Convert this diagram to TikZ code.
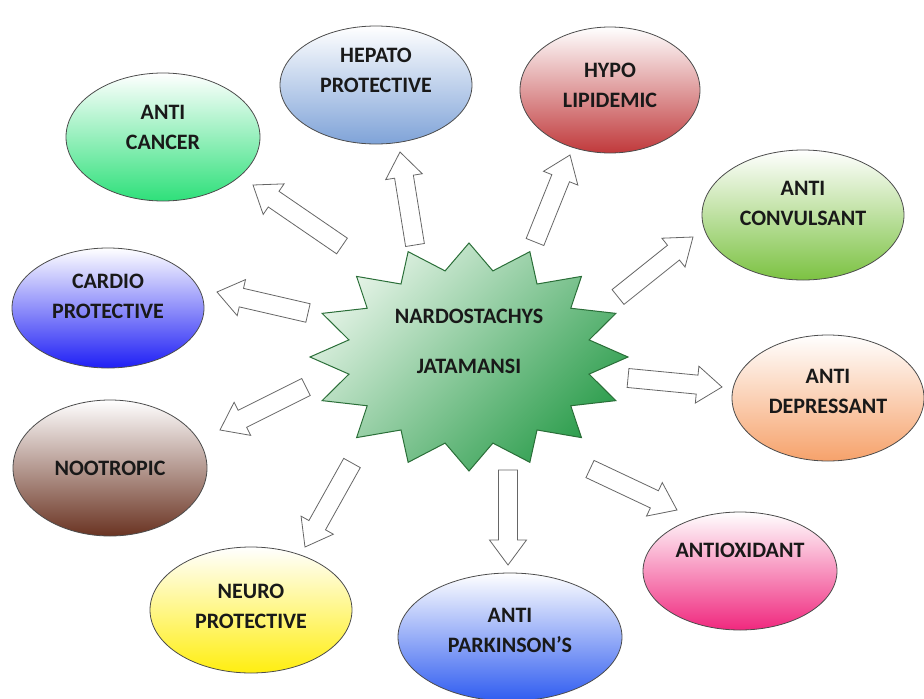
\documentclass[tikz,border=0pt]{standalone}
\usepackage{fontspec}
\setmainfont{Carlito}
\usetikzlibrary{shapes.geometric,calc}
\definecolor{hepatoblue}{HTML}{7FA3D8}
\definecolor{hypored}{HTML}{C0393B}
\definecolor{cancergreen}{HTML}{2EE07A}
\definecolor{convulgreen}{HTML}{7CC242}
\definecolor{cardioblue}{HTML}{1F1FF5}
\definecolor{depresspeach}{HTML}{F6A26B}
\definecolor{nootbrown}{HTML}{6A3322}
\definecolor{antioxpink}{HTML}{F0287E}
\definecolor{neuroyellow}{HTML}{FFEE10}
\definecolor{parkblue}{HTML}{2F5CF0}
\definecolor{starlight}{HTML}{E4F3E6}
\definecolor{stardark}{HTML}{2E9E4E}
\definecolor{staredge}{HTML}{2A6E38}
\begin{document}
\begin{tikzpicture}[x=1pt,y=-1pt,
  txt/.style={align=center,font=\fontsize{22}{30}\selectfont\bfseries,text=black!90,inner sep=0pt},
  every label/.style={txt},
  effect/.style={ellipse,draw=black!70,line width=0.8pt,top color=white,bottom color=#1,inner sep=0pt},
  esize/.style 2 args={minimum width=#1pt,minimum height=#2pt},
  bigarrow/.style={draw=black!60,line width=0.8pt,fill=white,
    to path={let \p1=(\tikztostart),\p2=(\tikztotarget),
      \n1={atan2(\y2-\y1,\x2-\x1)},\n2={veclen(\x2-\x1,\y2-\y1)} in
      ($(\p1)+({\n1+90}:9.5pt)$) -- ++(\n1:{\n2-25pt}) -- ++({\n1+90}:9pt) -- (\p2)
      -- ($(\p2)+({\n1+180}:25pt)+({\n1-90}:18.5pt)$) -- ++({\n1+90}:9pt)
      -- ++({\n1+180}:{\n2-25pt}) -- cycle}}]
  \useasboundingbox (0,0) rectangle (924,699);

  \node[effect=hepatoblue,esize={192}{118},label={[yshift=15pt]center:HEPATO\\PROTECTIVE}] (hepato) at (376,85) {};
  \node[effect=hypored,esize={180}{126},label={[yshift=5pt]center:HYPO\\LIPIDEMIC}] (hypo) at (610,90) {};
  \node[effect=cancergreen,esize={194}{128},label={[yshift=10pt]center:ANTI\\CANCER}] (cancer) at (163,137) {};
  \node[effect=convulgreen,esize={202}{130},label={[yshift=12pt]center:ANTI\\CONVULSANT}] (convul) at (803,215) {};
  \node[effect=cardioblue,esize={192}{120},label={[yshift=12pt]center:CARDIO\\PROTECTIVE}] (cardio) at (108,308) {};
  \node[effect=depresspeach,esize={192}{126},label={[yshift=7pt]center:ANTI\\DEPRESSANT}] (depress) at (828,398) {};
  \node[effect=nootbrown,esize={194}{136},label={[yshift=0pt]center:NOOTROPIC}] (nootropic) at (110,468) {};
  \node[effect=antioxpink,esize={194}{118},label={[yshift=21pt]center:ANTIOXIDANT}] (antiox) at (740,571) {};
  \node[effect=neuroyellow,esize={202}{126},label={[yshift=4pt]center:NEURO\\PROTECTIVE}] (neuro) at (251,610) {};
  \node[effect=parkblue,esize={224}{128},label={[yshift=7pt]center:ANTI\\PARKINSON’S}] (park) at (510,637) {};

  \begin{scope}[shift={(469,357)},x=159pt,y=-114pt]
    \draw[draw=staredge,line width=1pt,top color=starlight,bottom color=stardark,shading angle=45]
      (0:1) \foreach \a in {11.25,33.75,...,348.75} { -- (\a:0.77) -- (\a+11.25:1) } -- cycle;
  \end{scope}
  \node[txt] (nardo) at (469,341) {NARDOSTACHYS\\[20pt]JATAMANSI};

  \coordinate (s1) at (342,246);  \coordinate (t1) at (253,185);
  \coordinate (s2) at (415,245);  \coordinate (t2) at (400,152);
  \coordinate (s3) at (535,242);  \coordinate (t3) at (570,155);
  \coordinate (s4) at (618,297);  \coordinate (t4) at (693,237);
  \coordinate (s5) at (628,378);  \coordinate (t5) at (722,387);
  \coordinate (s6) at (590,469);  \coordinate (t6) at (677,510);
  \coordinate (s7) at (508,470);  \coordinate (t7) at (508,565);
  \coordinate (s8) at (352,463);  \coordinate (t8) at (305,547);
  \coordinate (s9) at (306,387);  \coordinate (t9) at (220,430);
  \coordinate (s10) at (308,313); \coordinate (t10) at (217,292);
  \draw[bigarrow] (s1) to (t1);
  \draw[bigarrow] (s2) to (t2);
  \draw[bigarrow] (s3) to (t3);
  \draw[bigarrow] (s4) to (t4);
  \draw[bigarrow] (s5) to (t5);
  \draw[bigarrow] (s6) to (t6);
  \draw[bigarrow] (s7) to (t7);
  \draw[bigarrow] (s8) to (t8);
  \draw[bigarrow] (s9) to (t9);
  \draw[bigarrow] (s10) to (t10);
\end{tikzpicture}
\end{document}
